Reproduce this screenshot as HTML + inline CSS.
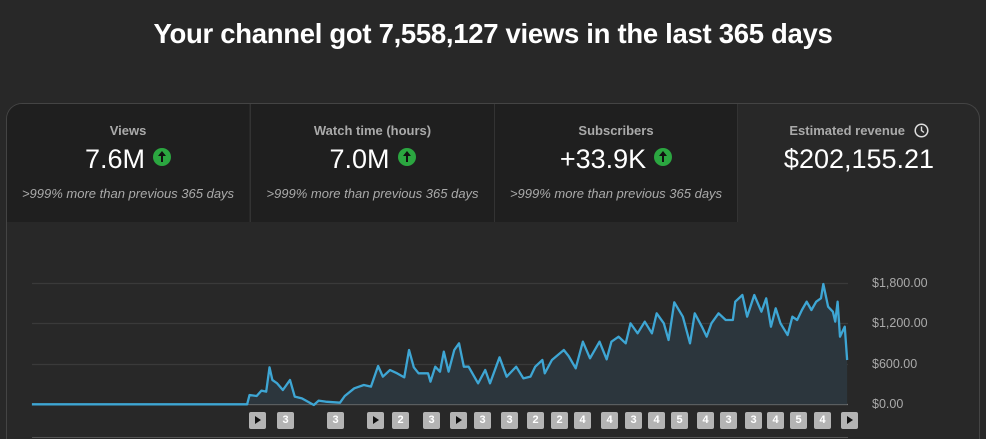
<!DOCTYPE html>
<html><head><meta charset="utf-8"><style>
html,body{margin:0;width:986px;height:439px;overflow:hidden}
body{background:#282828;font-family:"Liberation Sans",sans-serif;color:#fff;position:relative}
h1{position:absolute;top:18px;left:0;width:986px;margin:0;text-align:center;font-size:27.5px;font-weight:bold;letter-spacing:-0.3px}
.card{position:absolute;left:6px;top:103px;width:972px;height:336px;border:1px solid #444;border-bottom:none;border-radius:16px 16px 0 0;overflow:hidden}
.tab{position:absolute;top:0;height:118px;text-align:center}
.tab.d{background:#1f1f1f}
.lab{position:absolute;top:19px;width:100%;font-size:13px;font-weight:bold;color:#aaa}
.val{position:absolute;top:40px;width:100%;font-size:27px;color:#fff}
.sub{position:absolute;top:82px;width:100%;font-size:13px;font-style:italic;color:#aaa}
.up{display:inline-block;width:18px;height:18px;border-radius:50%;background:#2ba640;vertical-align:2px;margin-left:8px;position:relative}
.up:after{content:"";position:absolute;left:8px;top:6px;width:2px;height:8px;background:#111}
.up:before{content:"";position:absolute;left:5px;top:3px;border-left:4px solid transparent;border-right:4px solid transparent;border-bottom:5px solid #111}
.ax{position:absolute;left:872px;font-size:12.5px;color:#aaa}
.b{position:absolute;top:412px;width:17px;height:17px;background:#b4b4b4;border-radius:2px;color:#fff;font-size:11px;font-weight:bold;text-align:center;line-height:17px}
.p:after{content:"";position:absolute;left:6px;top:4px;border-top:4.5px solid transparent;border-bottom:4.5px solid transparent;border-left:6px solid #111}
</style></head><body>
<h1>Your channel got 7,558,127 views in the last 365 days</h1>
<div class="card">
<div class="tab d" style="left:0;width:242px"><div class="lab">Views</div><div class="val">7.6M<span class="up"></span></div><div class="sub">&gt;999% more than previous 365 days</div></div>
<div class="tab d" style="left:243px;width:243px;border-left:1px solid #333"><div class="lab">Watch time (hours)</div><div class="val">7.0M<span class="up"></span></div><div class="sub">&gt;999% more than previous 365 days</div></div>
<div class="tab d" style="left:487px;width:242px;border-left:1px solid #333"><div class="lab">Subscribers</div><div class="val">+33.9K<span class="up"></span></div><div class="sub">&gt;999% more than previous 365 days</div></div>
<div class="tab" style="left:730px;width:242px;border-left:1px solid #333"><div class="lab">Estimated revenue <svg width="15" height="15" viewBox="0 0 15 15" style="vertical-align:-3px;margin-left:5px"><circle cx="7.5" cy="7.5" r="6.3" fill="none" stroke="#ddd" stroke-width="1.5"/><path d="M7.5 3.5V7.5L10 9.5" fill="none" stroke="#ddd" stroke-width="1.4"/></svg></div><div class="val">$202,155.21</div></div>
</div>
<svg style="position:absolute;left:0;top:0" width="986" height="439">
<g stroke="#3a3a3a" stroke-width="1.2"><line x1="32" y1="283.5" x2="848" y2="283.5"/><line x1="32" y1="323.5" x2="848" y2="323.5"/><line x1="32" y1="364.5" x2="848" y2="364.5"/></g>
<line x1="32" y1="404.5" x2="848" y2="404.5" stroke="#777" stroke-width="1.2"/>
<line x1="32" y1="437.5" x2="848" y2="437.5" stroke="#555" stroke-width="1"/>
<g transform="translate(240,270) scale(0.47619,0.33333)">
<polygon fill="#2c363d" points="-437,403 15,403 20,375 35,378 45,362 55,365 62,292 68,330 78,340 90,360 105,330 115,380 130,385 155,405 165,392 180,395 210,398 220,378 240,355 260,345 275,350 290,288 300,320 315,300 330,310 345,322 355,240 365,292 375,310 395,310 400,335 410,290 420,305 428,245 438,305 450,240 460,220 470,290 480,290 500,340 515,300 525,340 545,262 560,320 580,290 595,325 610,320 620,290 635,270 640,310 655,270 680,240 690,258 705,295 720,215 735,265 755,215 770,268 780,215 795,200 810,220 820,160 835,190 850,155 865,190 875,130 890,160 900,210 912,97 930,140 945,220 955,130 970,170 980,200 990,160 1005,130 1020,150 1035,150 1040,95 1055,75 1065,140 1080,75 1095,125 1105,85 1115,170 1125,115 1135,160 1150,195 1160,140 1170,150 1180,120 1190,95 1200,120 1210,95 1220,85 1225,42 1235,110 1245,125 1250,155 1255,95 1260,200 1270,170 1275,270 1275,403"/>
<polyline fill="none" stroke="#3ea6d4" stroke-width="2.3" vector-effect="non-scaling-stroke" stroke-linejoin="round" points="-437,403 15,403 20,375 35,378 45,362 55,365 62,292 68,330 78,340 90,360 105,330 115,380 130,385 155,405 165,392 180,395 210,398 220,378 240,355 260,345 275,350 290,288 300,320 315,300 330,310 345,322 355,240 365,292 375,310 395,310 400,335 410,290 420,305 428,245 438,305 450,240 460,220 470,290 480,290 500,340 515,300 525,340 545,262 560,320 580,290 595,325 610,320 620,290 635,270 640,310 655,270 680,240 690,258 705,295 720,215 735,265 755,215 770,268 780,215 795,200 810,220 820,160 835,190 850,155 865,190 875,130 890,160 900,210 912,97 930,140 945,220 955,130 970,170 980,200 990,160 1005,130 1020,150 1035,150 1040,95 1055,75 1065,140 1080,75 1095,125 1105,85 1115,170 1125,115 1135,160 1150,195 1160,140 1170,150 1180,120 1190,95 1200,120 1210,95 1220,85 1225,42 1235,110 1245,125 1250,155 1255,95 1260,200 1270,170 1275,270"/>
</g>
</svg>
<div class="ax" style="top:276px">$1,800.00</div>
<div class="ax" style="top:316px">$1,200.00</div>
<div class="ax" style="top:357px">$600.00</div>
<div class="ax" style="top:397px">$0.00</div>
<div class="b p" style="left:249px"></div>
<div class="b" style="left:277px">3</div>
<div class="b" style="left:327px">3</div>
<div class="b p" style="left:367px"></div>
<div class="b" style="left:392px">2</div>
<div class="b" style="left:423px">3</div>
<div class="b p" style="left:450px"></div>
<div class="b" style="left:474px">3</div>
<div class="b" style="left:501px">3</div>
<div class="b" style="left:527px">2</div>
<div class="b" style="left:551px">2</div>
<div class="b" style="left:574px">4</div>
<div class="b" style="left:601px">4</div>
<div class="b" style="left:625px">3</div>
<div class="b" style="left:648px">4</div>
<div class="b" style="left:671px">5</div>
<div class="b" style="left:697px">4</div>
<div class="b" style="left:720px">3</div>
<div class="b" style="left:745px">3</div>
<div class="b" style="left:767px">4</div>
<div class="b" style="left:790px">5</div>
<div class="b" style="left:814px">4</div>
<div class="b p" style="left:841px"></div>
</body></html>
